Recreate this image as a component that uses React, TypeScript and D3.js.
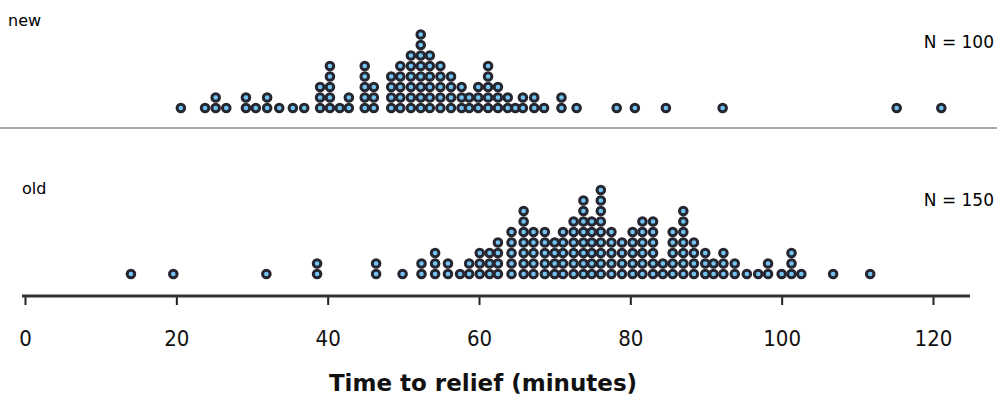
import React, { useEffect, useRef } from 'react';
import * as d3 from 'd3';

// dot columns: bin centre (minutes) and number of stacked dots
const newBins = [20.6, 23.8, 25.2, 26.6, 29.2, 30.5, 32.0, 33.6, 35.4, 36.9, 39.0, 40.3, 41.6, 42.8, 44.9, 46.1, 48.4, 49.6, 51.0, 52.3, 53.5, 54.9, 56.3, 57.7, 58.7, 59.9, 61.2, 62.5, 63.8, 64.8, 65.8, 67.3, 68.6, 70.9, 72.9, 78.2, 80.6, 84.7, 92.2, 115.2, 121.1];
const newCounts = [1, 1, 2, 1, 2, 1, 2, 1, 1, 1, 3, 5, 1, 2, 5, 3, 4, 5, 6, 8, 6, 5, 4, 3, 2, 3, 5, 3, 2, 1, 2, 2, 1, 2, 1, 1, 1, 1, 1, 1, 1];

const oldBins = [14.0, 19.6, 31.9, 38.6, 46.4, 49.9, 52.4, 54.2, 55.9, 57.5, 58.7, 60.1, 61.4, 62.5, 64.3, 65.9, 67.2, 68.7, 70.0, 71.1, 72.5, 73.8, 74.9, 76.1, 77.5, 78.9, 80.3, 81.6, 83.0, 84.3, 85.6, 87.0, 88.4, 89.9, 91.0, 92.3, 93.8, 95.4, 96.9, 98.2, 100.0, 101.3, 102.6, 106.8, 111.7];
const oldCounts = [1, 1, 1, 2, 2, 1, 2, 3, 2, 1, 2, 3, 3, 4, 5, 7, 5, 5, 4, 5, 6, 8, 6, 9, 5, 4, 5, 6, 6, 2, 5, 7, 4, 3, 2, 3, 2, 1, 1, 2, 1, 3, 1, 1, 1];

const xTicks = [0, 20, 40, 60, 80, 100, 120];

const App = () => {
    const ref = useRef<SVGSVGElement>(null);

    useEffect(() => {
        const svg = d3.select(ref.current);
        svg.selectAll('*').remove();

        const x = d3.scaleLinear().domain([0, 120]).range([25, 933]);
        const step = 10.5;

        const drawDots = (bins: number[], counts: number[], baseY: number) => {
            const pts: { v: number; k: number }[] = [];
            bins.forEach((b, i) => {
                for (let k = 0; k < counts[i]; k++) pts.push({ v: b, k });
            });
            svg.append('g')
                .selectAll('circle')
                .data(pts)
                .enter()
                .append('circle')
                .attr('cx', (d) => x(d.v))
                .attr('cy', (d) => baseY - d.k * step)
                .attr('r', 3.8)
                .attr('fill', '#72c4f2')
                .attr('stroke', '#262630')
                .attr('stroke-width', 3);
        };

        drawDots(newBins, newCounts, 108);
        drawDots(oldBins, oldCounts, 274);

        // panel labels
        svg.append('text').attr('x', 8).attr('y', 26).attr('font-size', 16)
            .attr('font-family', 'DejaVu Sans').text('new');
        svg.append('text').attr('x', 994).attr('y', 48).attr('font-size', 17)
            .attr('text-anchor', 'end').attr('font-family', 'DejaVu Sans').text('N = 100');
        svg.append('text').attr('x', 22).attr('y', 194).attr('font-size', 16)
            .attr('font-family', 'DejaVu Sans').text('old');
        svg.append('text').attr('x', 994).attr('y', 206).attr('font-size', 17)
            .attr('text-anchor', 'end').attr('font-family', 'DejaVu Sans').text('N = 150');

        // separator
        svg.append('line').attr('x1', 0).attr('x2', 997).attr('y1', 128).attr('y2', 128)
            .attr('stroke', '#8a8a8a').attr('stroke-width', 1.5);

        // axis
        const axis = svg.append('g').attr('transform', 'translate(0, 296)');
        axis.call(d3.axisBottom(x).tickValues(xTicks).tickSize(9).tickPadding(25).tickSizeOuter(0));
        axis.select('.domain').remove();
        axis.append('line').attr('x1', 22).attr('x2', 970).attr('y1', 0).attr('y2', 0)
            .attr('stroke', '#333').attr('stroke-width', 3);
        axis.selectAll('.tick line').attr('stroke', '#222').attr('stroke-width', 2);
        axis.selectAll('.tick text')
            .attr('font-size', 22)
            .attr('font-family', 'DejaVu Sans Condensed')
            .attr('fill', '#111');

        svg.append('text')
            .attr('x', 483)
            .attr('y', 391)
            .attr('text-anchor', 'middle')
            .attr('font-size', 23)
            .attr('font-weight', 'bold')
            .attr('font-family', 'DejaVu Sans')
            .attr('fill', '#111')
            .text('Time to relief (minutes)');
    }, []);

    return (
        <svg ref={ref} width={997} height={400}
            style={{ position: 'absolute', left: 0, top: 0, background: '#fff' }} />
    );
};

export default App;
